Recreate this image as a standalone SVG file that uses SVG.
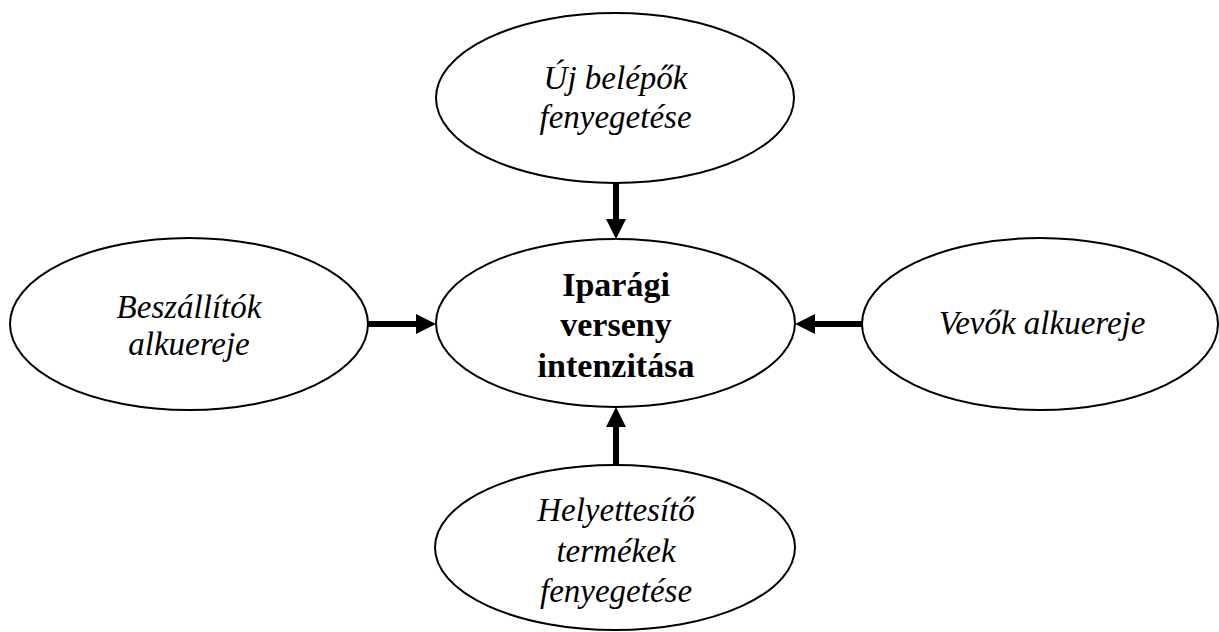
<svg xmlns="http://www.w3.org/2000/svg" width="1219" height="632" viewBox="0 0 1219 632">
  <style>
    .node ellipse { fill: #ffffff; stroke: #000000; stroke-width: 2; }
    .lbl { font-family: "Liberation Serif", "Times New Roman", serif; font-size: 33px; font-style: italic; fill: #000000; text-anchor: middle; }
    .main { font-family: "Liberation Serif", "Times New Roman", serif; font-size: 34px; font-weight: bold; fill: #000000; text-anchor: middle; }
    .conn line { stroke: #000000; stroke-width: 6; fill: none; marker-end: url(#arrow); }
  </style>
  <defs>
    <marker id="arrow" markerUnits="userSpaceOnUse" markerWidth="20" markerHeight="20" viewBox="0 0 20 20" refX="6" refY="10" orient="auto">
      <path d="M0,0 L20,10 L0,20 Z" fill="#000000"/>
    </marker>
  </defs>
  <rect width="1219" height="632" fill="#ffffff"/>

  <g id="connectors" class="conn">
    <line x1="616" y1="183" x2="616" y2="225"/>
    <line x1="368" y1="324" x2="422" y2="324"/>
    <line x1="862" y1="324" x2="809" y2="324"/>
    <line x1="616" y1="465" x2="616" y2="421"/>
  </g>

  <g id="node-center" class="node">
    <ellipse cx="615.5" cy="323" rx="179.5" ry="84"/>
    <text class="main" x="616" y="296">Iparági</text>
    <text class="main" x="616" y="336">verseny</text>
    <text class="main" x="616" y="377">intenzitása</text>
  </g>

  <g id="node-top" class="node">
    <ellipse cx="615" cy="98" rx="179" ry="85"/>
    <text class="lbl" x="615.5" y="89">Új belépők</text>
    <text class="lbl" x="615.5" y="128">fenyegetése</text>
  </g>

  <g id="node-left" class="node">
    <ellipse cx="189" cy="324" rx="179" ry="86"/>
    <text class="lbl" x="189" y="318">Beszállítók</text>
    <text class="lbl" x="189" y="355">alkuereje</text>
  </g>

  <g id="node-right" class="node">
    <ellipse cx="1040" cy="324" rx="178" ry="86"/>
    <text class="lbl" x="1042" y="334">Vevők alkuereje</text>
  </g>

  <g id="node-bottom" class="node">
    <ellipse cx="615" cy="547.5" rx="180" ry="82.5"/>
    <text class="lbl" x="616" y="521">Helyettesítő</text>
    <text class="lbl" x="616" y="562">termékek</text>
    <text class="lbl" x="616" y="602">fenyegetése</text>
  </g>
</svg>
